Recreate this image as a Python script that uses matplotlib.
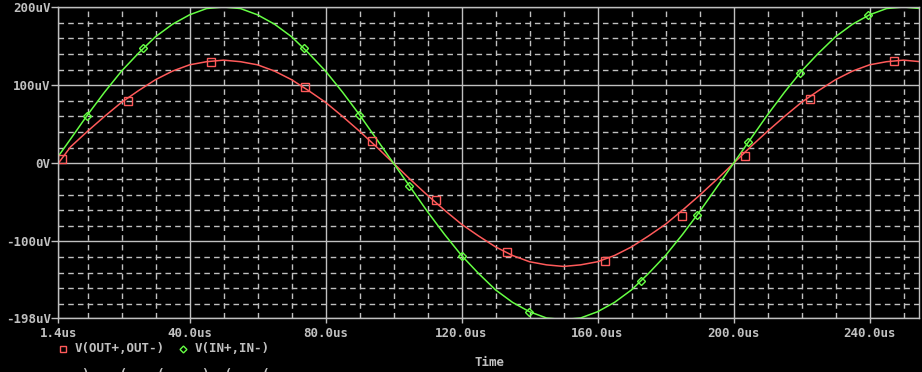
import matplotlib
matplotlib.use("Agg")
import matplotlib.pyplot as plt
from matplotlib.ticker import FixedLocator

# time axis (us) and traces (uV)
time_us = [1.4, 5, 10, 15, 20, 25, 30, 35, 40, 45, 50, 55, 60, 65, 70, 75, 80, 85, 90, 95,
           100, 105, 110, 115, 120, 125, 130, 135, 140, 145, 150, 155, 160, 165, 170, 175,
           180, 185, 190, 195, 200, 205, 210, 215, 220, 225, 230, 235, 240, 245, 250, 255]
v_in = [9, 31, 62, 91, 118, 141, 162, 178, 190, 198, 200, 198, 190, 178, 162, 141, 118, 91, 62, 31,
        0, -31, -62, -91, -118, -141, -162, -178, -190, -198, -200, -198, -190, -178, -162, -141,
        -118, -91, -62, -31, 0, 31, 62, 91, 118, 141, 162, 178, 190, 198, 200, 198]
v_out = [0, 21, 41, 60, 78, 93, 107, 118, 126, 130, 132, 130, 126, 118, 107, 93, 78, 60, 41, 21,
         0, -21, -41, -60, -78, -93, -107, -118, -126, -130, -132, -130, -126, -118, -107, -93,
         -78, -60, -41, -21, 0, 21, 41, 60, 78, 93, 107, 118, 126, 130, 132, 130]

# marker positions
out_mark_t = [2.5, 21.9, 46.3, 74.0, 93.8, 112.4, 133.4, 162.2, 184.9, 203.5, 222.6, 247.3]
out_mark_v = [6, 80, 130, 97, 28, -47, -113, -125, -67, 9, 82, 131]
in_mark_t = [9.8, 26.3, 73.7, 89.9, 104.6, 120.2, 139.9, 172.8, 189.3, 204.3, 219.6, 239.6]
in_mark_v = [60, 147, 147, 62, -29, -119, -190, -151, -66, 27, 116, 190]

x_major = [1.4, 40, 80, 120, 160, 200, 240]
x_labels = ["1.4us", "40.0us", "80.0us", "120.0us", "160.0us", "200.0us", "240.0us"]
x_minor = [10, 20, 30, 50, 60, 70, 90, 100, 110, 130, 140, 150, 170, 180, 190, 210, 220, 230, 250]
y_major = [-198, -100, 0, 100, 200]
y_labels = ["-198uV", "-100uV", "0V", "100uV", "200uV"]
y_minor = [-180, -160, -140, -120, -80, -60, -40, -20, 20, 40, 60, 80, 120, 140, 160, 180]

RED = "#ff5a5a"
GREEN = "#66ff44"
GRAY = "#c0c0c0"
FONT = dict(family="DejaVu Sans Mono", fontweight="bold", color=GRAY, fontsize=9)

fig = plt.figure(figsize=(9.22, 3.72), dpi=100, facecolor="black")
ax = fig.add_axes([58.3 / 922, 1 - 318 / 372, (918.5 - 58.3) / 922, (318 - 7) / 372])
ax.set_facecolor("black")

ax.plot(time_us, v_out, color=RED, lw=1.1)
ax.plot(time_us, v_in, color=GREEN, lw=1.1)
ax.plot(out_mark_t, out_mark_v, ls="none", marker="s", ms=6, mfc="none", mec=RED, mew=1)
ax.plot(in_mark_t, in_mark_v, ls="none", marker="D", ms=4, mfc="none", mec=GREEN, mew=1)

ax.set_xlim(1.4, 254.4)
ax.set_ylim(-198, 200)

ax.xaxis.set_major_locator(FixedLocator(x_major))
ax.xaxis.set_minor_locator(FixedLocator(x_minor))
ax.yaxis.set_major_locator(FixedLocator(y_major))
ax.yaxis.set_minor_locator(FixedLocator(y_minor))
ax.set_xticklabels(x_labels, **FONT)
ax.set_yticklabels(y_labels, **FONT)

ax.grid(which="major", color=GRAY, lw=1, ls="-")
ax.grid(which="minor", color=GRAY, lw=1, ls=(0, (4, 3)))
ax.set_axisbelow(True)
ax.tick_params(which="minor", length=0)
ax.tick_params(axis="y", which="major", length=5, width=1, color=GRAY, pad=0.5)
ax.tick_params(axis="x", which="major", length=3.6, width=1, color=GRAY, pad=3)
for sp in ax.spines.values():
    sp.set_color(GRAY)
    sp.set_linewidth(1)

# legend row
fig.lines.append(plt.Line2D([63 / 922], [1 - 349 / 372], transform=fig.transFigure,
                            marker="s", ms=5, mfc="none", mec=RED, mew=1, ls="none"))
fig.text(75 / 922, 1 - 349 / 372, "V(OUT+,OUT-)", va="center", ha="left", **FONT)
fig.lines.append(plt.Line2D([183 / 922], [1 - 349 / 372], transform=fig.transFigure,
                            marker="D", ms=3.5, mfc="none", mec=GREEN, mew=1, ls="none"))
fig.text(195 / 922, 1 - 349 / 372, "V(IN+,IN-)", va="center", ha="left", **FONT)

fig.text(489 / 922, 1 - 363 / 372, "Time", va="center", ha="center", **FONT)
# partially visible row cut off at the window bottom
fig.text(82 / 922, 4 / 372, ")    (    (     )  (    (", va="top", ha="left", **FONT)

fig.savefig("out.png", dpi=100, facecolor="black")
